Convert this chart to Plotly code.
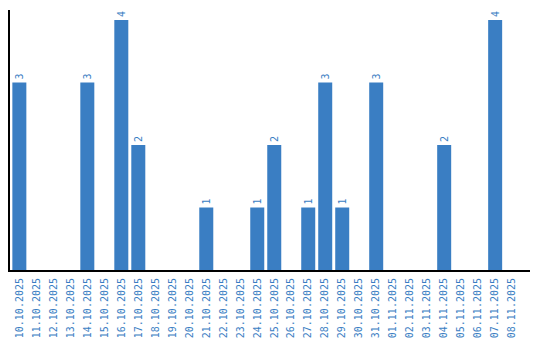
import plotly.graph_objects as go

dates = ["10.10.2025","11.10.2025","12.10.2025","13.10.2025","14.10.2025","15.10.2025",
         "16.10.2025","17.10.2025","18.10.2025","19.10.2025","20.10.2025","21.10.2025",
         "22.10.2025","23.10.2025","24.10.2025","25.10.2025","26.10.2025","27.10.2025",
         "28.10.2025","29.10.2025","30.10.2025","31.10.2025","01.11.2025","02.11.2025",
         "03.11.2025","04.11.2025","05.11.2025","06.11.2025","07.11.2025","08.11.2025"]
values = [3,0,0,0,3,0,4,2,0,0,0,1,0,0,1,2,0,1,3,1,0,3,0,0,0,2,0,0,4,0]

color = "#3a7ec3"
labels = [str(v) if v > 0 else "" for v in values]

fig = go.Figure(go.Bar(
    x=dates, y=values, marker_color=color, marker_line_width=0,
    text=labels, textposition="outside", textangle=-90,
    textfont=dict(family="DejaVu Sans Mono", size=10, color=color),
    cliponaxis=False,
))
fig.update_layout(
    width=540, height=340, margin=dict(l=10, r=10, t=10, b=70, autoexpand=False),
    paper_bgcolor="white", plot_bgcolor="white", bargap=0.176, showlegend=False,
    font=dict(family="DejaVu Sans Mono", size=10, color=color),
)
fig.update_xaxes(type="category", range=[-0.55, 30.05], tickangle=-90, showline=True,
                 linecolor="black", linewidth=2, automargin=False, ticklabelstandoff=2,
                 ticks="", showgrid=False, tickfont=dict(family="DejaVu Sans Mono", size=10, color=color))
fig.update_yaxes(range=[0, 4.16], showline=True, linecolor="black", linewidth=2, automargin=False,
                 showticklabels=False, ticks="", showgrid=False, zeroline=False)
fig.write_html("out.html")
